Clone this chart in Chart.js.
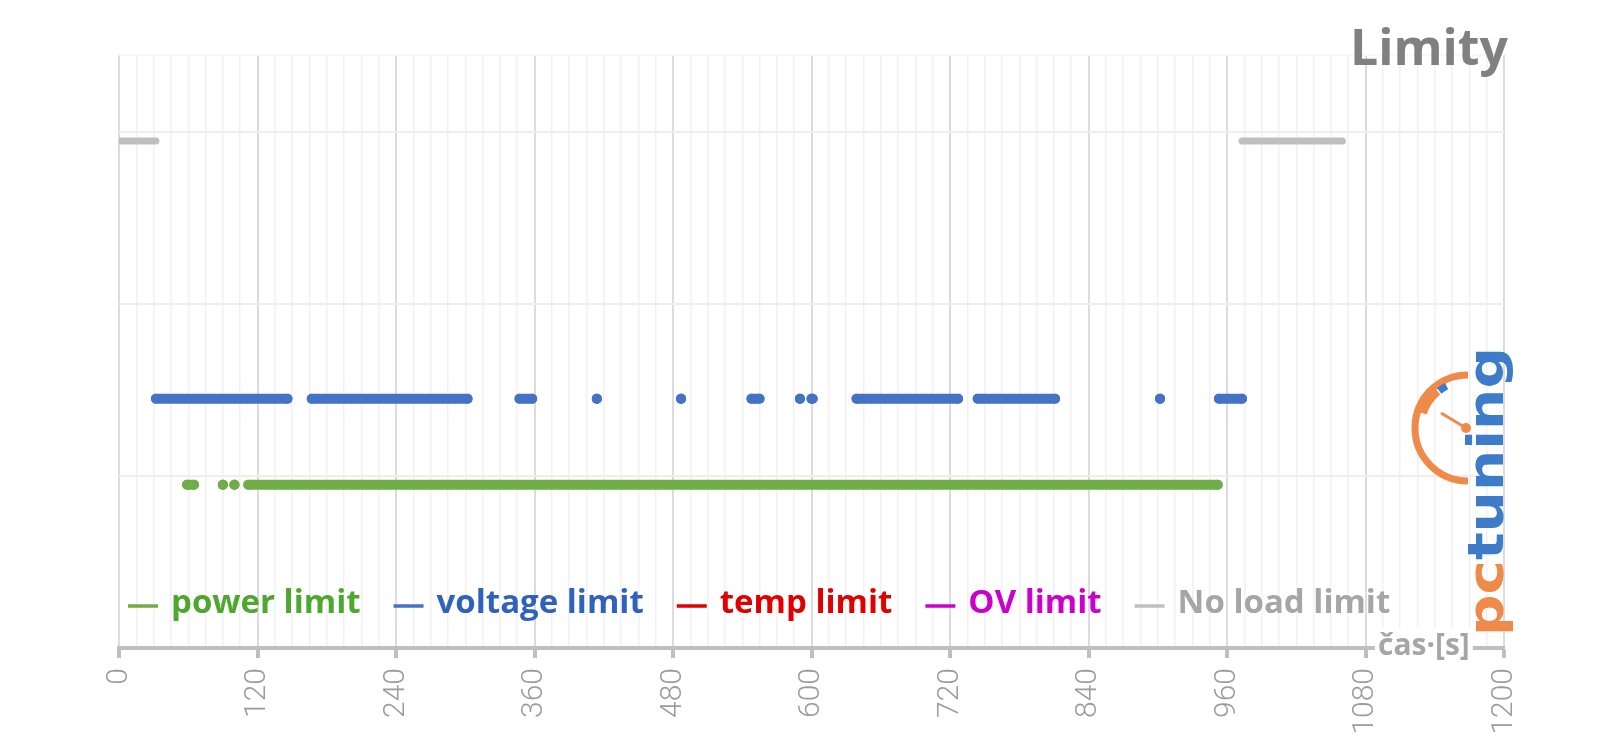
<!DOCTYPE html>
<html>
<head>
<meta charset="utf-8">
<script src="https://cdn.jsdelivr.net/npm/chart.js@4"></script>
<style>
  html, body { margin: 0; padding: 0; background: #fff; }
  #wrap { width: 1600px; height: 745px; }
</style>
</head>
<body>
<div id="wrap"><canvas id="limitChart" width="1600" height="745"></canvas></div>
<script>
// osa x: čas v sekundách
const xMax = 1200;
const majorStep = 120;   // popisky
const minorStep = 15;    // vedlejší mřížka

// úroveň každé řady na ose y
const levelPower = 0.95;
const levelVoltage = 1.45;
const levelNoLoad = 2.95;

// intervaly, kdy byl limit aktivní (začátek / konec v s)
const powerStart = [59, 90, 100, 112];
const powerEnd   = [65, 90, 100, 952];

const voltageStart = [32, 167, 347, 414, 487, 548, 590, 600, 639, 744, 902, 953];
const voltageEnd   = [146, 302, 358, 414, 487, 555, 590, 601, 727, 811, 902, 973];

const noLoadStart = [1, 973];
const noLoadEnd   = [32, 1060];

const seriesNames  = ['power limit', 'voltage limit', 'temp limit', 'OV limit', 'No load limit'];
const seriesColors = ['#70ad47', '#4472c4', '#e00000', '#cc00cc', '#bfbfbf'];
const legendText   = ['#4ea72e', '#2f62bd', '#e00000', '#cc00cc', '#a6a6a6'];

function runs(starts, ends, level) {
  const pts = [];
  starts.forEach((s, i) => {
    pts.push({ x: s, y: level }, { x: ends[i], y: level }, { x: ends[i], y: null });
  });
  return pts;
}

function dotSeries(idx, data) {
  return {
    label: seriesNames[idx],
    data: data,
    showLine: true,
    spanGaps: false,
    borderColor: seriesColors[idx],
    backgroundColor: seriesColors[idx],
    borderWidth: 10,
    borderCapStyle: 'round',
    borderJoinStyle: 'round',
    pointRadius: 5,
    pointBorderWidth: 0,
    pointHoverRadius: 5
  };
}

const datasets = [
  Object.assign(dotSeries(4, runs(noLoadStart, noLoadEnd, levelNoLoad)), { borderWidth: 7, pointRadius: 0 }),
  dotSeries(0, runs(powerStart, powerEnd, levelPower)),
  dotSeries(1, runs(voltageStart, voltageEnd, levelVoltage)),
  dotSeries(2, []),
  dotSeries(3, [])
];

// legenda, nadpis, popisek osy a logo
const decor = {
  id: 'decor',
  afterDraw(chart) {
    const ctx = chart.ctx;
    ctx.save();

    // nadpis
    ctx.font = 'bold 50px "Open Sans"';
    ctx.fillStyle = '#808080';
    ctx.textAlign = 'right';
    ctx.textBaseline = 'alphabetic';
    ctx.fillText('Limity', 1508, 65);

    // legenda
    ctx.font = 'bold 33px "Open Sans"';
    ctx.textAlign = 'left';
    ctx.textBaseline = 'middle';
    let x = 128;
    const y = 606;
    seriesNames.forEach((name, i) => {
      ctx.strokeStyle = seriesColors[i];
      ctx.lineWidth = 3.5;
      ctx.beginPath();
      ctx.moveTo(x, y);
      ctx.lineTo(x + 30, y);
      ctx.stroke();
      ctx.fillStyle = legendText[i];
      ctx.fillText(name, x + 43, y - 2);
      x += 43 + ctx.measureText(name).width + 33;
    });

    // název osy x
    ctx.font = 'bold 30px "Open Sans"';
    const lbl = 'čas·[s]';
    const w = ctx.measureText(lbl).width;
    ctx.fillStyle = '#ffffff';
    ctx.fillRect(1375, 628, w + 6, 26);
    ctx.fillStyle = '#a6a6a6';
    ctx.fillText(lbl, 1378, 646);

    // logo pctuning
    ctx.strokeStyle = '#f08a4b';
    ctx.lineWidth = 7;
    ctx.beginPath();
    ctx.arc(1468, 428, 53, Math.PI * 0.5, Math.PI * 1.5);
    ctx.stroke();
    ctx.lineWidth = 13;
    ctx.beginPath();
    ctx.arc(1468, 428, 50, Math.PI * 1.1, Math.PI * 1.28);
    ctx.stroke();
    ctx.strokeStyle = '#3d7cc9';
    ctx.lineWidth = 7;
    ctx.beginPath();
    ctx.arc(1468, 428, 47, Math.PI * 1.29, Math.PI * 1.35);
    ctx.stroke();
    ctx.strokeStyle = '#f08a4b';
    ctx.lineWidth = 3;
    ctx.beginPath();
    ctx.moveTo(1466, 428);
    ctx.lineTo(1441, 413);
    ctx.stroke();
    ctx.fillStyle = '#f08a4b';
    ctx.beginPath();
    ctx.arc(1466, 428, 5, 0, Math.PI * 2);
    ctx.fill();

    ctx.translate(1503, 636);
    ctx.rotate(-Math.PI / 2);
    ctx.scale(1, 0.85);
    ctx.font = 'bold 58px "DejaVu Sans"';
    ctx.textAlign = 'left';
    ctx.textBaseline = 'alphabetic';
    ctx.fillStyle = '#f08a4b';
    ctx.fillText('pc', 0, 0);
    const pw = ctx.measureText('pc').width;
    ctx.fillStyle = '#3d7cc9';
    ctx.fillText('tuning', pw, 0);

    ctx.restore();
  }
};

new Chart(document.getElementById('limitChart'), {
  type: 'scatter',
  data: { datasets: datasets },
  options: {
    responsive: false,
    animation: false,
    devicePixelRatio: 1,
    layout: { padding: { left: 0, right: 96, top: 55, bottom: 0 } },
    plugins: {
      legend: { display: false },
      tooltip: { enabled: false }
    },
    scales: {
      x: {
        type: 'linear',
        min: 0,
        max: xMax,
        afterFit: (axis) => { axis.height = 97; },
        border: { color: '#bfbfbf', width: 4 },
        grid: {
          color: (c) => (c.tick.value % majorStep === 0 ? '#dcdcdc' : '#f1f1f1'),
          lineWidth: (c) => (c.tick.value % majorStep === 0 ? 2 : 1.5),
          tickColor: (c) => (c.tick.value % majorStep === 0 ? '#bfbfbf' : 'rgba(0,0,0,0)'),
          tickWidth: 4,
          tickLength: 10
        },
        ticks: {
          stepSize: minorStep,
          autoSkip: false,
          minRotation: 90,
          maxRotation: 90,
          padding: 10,
          color: '#9c9c9c',
          font: { family: 'Roboto', weight: 300, size: 30 },
          callback: (v) => (v % majorStep === 0 ? v : '')
        }
      },
      y: {
        min: 0,
        max: 3.45,
        afterFit: (axis) => { axis.width = 119; },
        border: { display: false },
        grid: {
          color: (c) => (c.tick.value > 3 ? '#f8f8f8' : '#eeeeee'),
          lineWidth: 2,
          drawTicks: false
        },
        ticks: { stepSize: 1, display: false }
      }
    }
  },
  plugins: [decor]
});
</script>
</body>
</html>
